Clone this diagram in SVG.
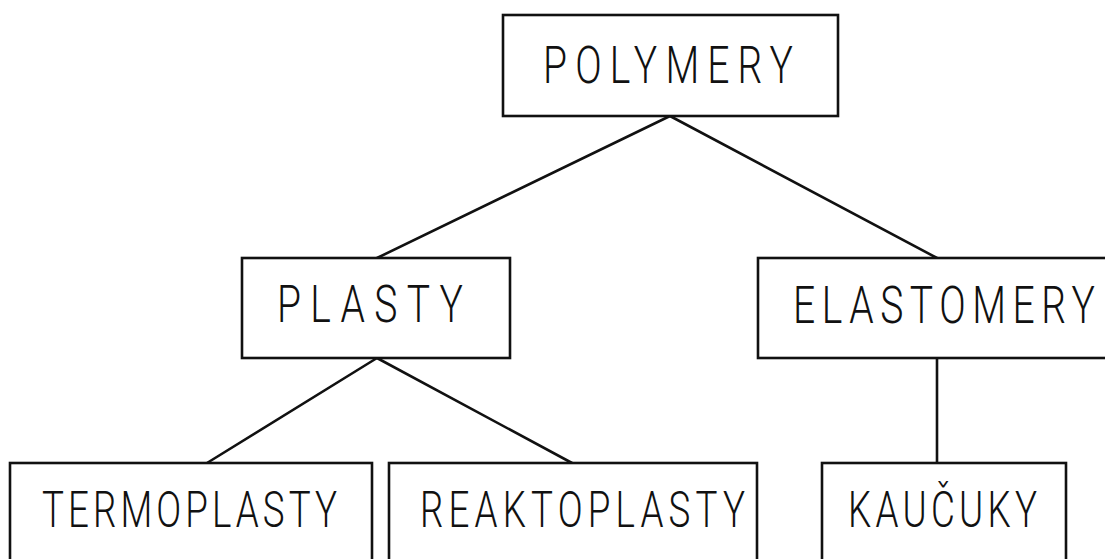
<svg xmlns="http://www.w3.org/2000/svg" width="1105" height="559" viewBox="0 0 1105 559">
<style>
.box{fill:#fff;stroke:#111;stroke-width:2.6}
.lbl{font-family:Roboto,"DejaVu Sans",sans-serif;font-weight:300;fill:#111}
.big{font-size:52px}
.sm{font-size:49px}
#connectors line{stroke:#111;stroke-width:2.6;stroke-linecap:round}
</style>
<rect width="1105" height="559" fill="#fff"/>
<g id="connectors">
<line x1="670" y1="116" x2="377" y2="258"/>
<line x1="670" y1="116" x2="937" y2="258"/>
<line x1="377" y1="358" x2="207" y2="463"/>
<line x1="377" y1="358" x2="572" y2="463"/>
<line x1="937" y1="358" x2="937" y2="463"/>
</g>
<g id="polymery">
<rect class="box" x="503" y="15" width="335" height="101"/>
<text class="lbl big" transform="scale(0.75,1)" x="724" y="83" textLength="333.3" lengthAdjust="spacing">POLYMERY</text>
</g>
<g id="plasty">
<rect class="box" x="242" y="258" width="268" height="100"/>
<text class="lbl big" transform="scale(0.75,1)" x="369.3" y="322" textLength="248" lengthAdjust="spacing">PLASTY</text>
</g>
<g id="elastomery">
<rect class="box" x="758" y="258" width="360" height="100"/>
<text class="lbl big" transform="scale(0.75,1)" x="1057.3" y="323" textLength="402.7" lengthAdjust="spacing">ELASTOMERY</text>
</g>
<g id="termoplasty">
<rect class="box" x="10" y="463" width="362" height="120"/>
<text class="lbl sm" transform="scale(0.75,1)" x="56" y="527" textLength="393.3" lengthAdjust="spacing">TERMOPLASTY</text>
</g>
<g id="reaktoplasty">
<rect class="box" x="389" y="463" width="368" height="120"/>
<text class="lbl sm" transform="scale(0.75,1)" x="560" y="527" textLength="433.3" lengthAdjust="spacing">REAKTOPLASTY</text>
</g>
<g id="kaucuky">
<rect class="box" x="822" y="463" width="244" height="120"/>
<text class="lbl sm" transform="scale(0.75,1)" x="1130.7" y="527" textLength="252" lengthAdjust="spacing">KAUČUKY</text>
</g>
</svg>
